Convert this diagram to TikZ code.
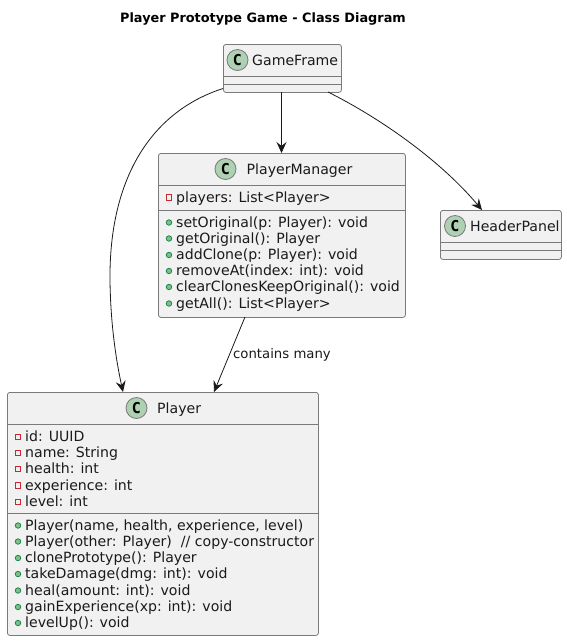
\documentclass[tikz,border=0pt]{standalone}
\usepackage{fontspec}
\setmainfont{DejaVu Sans}
\newfontfamily\badgefont{DejaVu Sans Mono}
\usetikzlibrary{arrows.meta}
\definecolor{boxfill}{HTML}{F1F1F1}
\definecolor{boxline}{HTML}{7A7A7A}
\definecolor{badge}{HTML}{ADD1B2}
\definecolor{privred}{HTML}{C82930}
\definecolor{pubgreen}{HTML}{84BE84}
\definecolor{publine}{HTML}{038048}
\definecolor{txt}{HTML}{1A1A1A}
\tikzset{
  classbox/.style={draw=boxline,fill=boxfill,line width=.8pt,rounded corners=2.5pt,inner sep=0pt,anchor=north west},
  sep/.style={draw=boxline,line width=.8pt},
  conn/.style={draw=txt,line width=.8pt,-{Stealth[length=11pt,width=10pt,inset=4pt]}},
  row/.style={anchor=west,inner sep=0pt,font=\fontsize{14.1}{16}\selectfont,text=txt,text height=12.5pt,text depth=3pt},
  cname/.style={inner sep=0pt,font=\fontsize{14.1}{16}\selectfont,text=txt,text height=13pt,text depth=3pt},
  cbadge/.style={circle,draw=boxline,fill=badge,line width=.8pt,minimum size=21pt,inner sep=0pt,font=\badgefont\fontsize{15}{16}\selectfont\bfseries,text=black},
  priv/.style={draw=privred,line width=.8pt,fill=none,minimum size=5.5pt,inner sep=0pt},
  pub/.style={circle,draw=publine,fill=pubgreen,line width=.7pt,minimum size=5.5pt,inner sep=0pt},
  lab/.style={inner sep=0pt,anchor=west,font=\fontsize{13.25}{15}\selectfont,text=txt},
  ttl/.style={inner sep=0pt,font=\fontsize{12.85}{15}\selectfont\bfseries,text=black}
}
% #1 name, #2 left edge, #3 top, #4 width, #5 height
\newcommand{\umlbox}[5]{\node[classbox,minimum width=#4pt,minimum height=#5pt] (#1) at (#2pt,-#3pt) {};}
% #1 style, #2 left, #3 y, #4 text
\newcommand{\umlrow}[4]{\node[#1,minimum size=5.5pt] at ({(#2+7)*1pt},-#3pt) {};\node[row] at ({(#2+14)*1pt},-#3pt) {#4};}
\newcommand{\umlsep}[3]{\draw[sep] (#1pt,-#3pt) -- (#2pt,-#3pt);}
\begin{document}
\begin{tikzpicture}[x=1pt,y=1pt]
\useasboundingbox (0,0) rectangle (567,-641);
\node[ttl] (title) at (263,-18.5) {Player Prototype Game - Class Diagram};

% GameFrame
\umlbox{gf}{223}{44}{118}{48}
\umlsep{223}{341}{76}\umlsep{223}{341}{84}
\node[cbadge] (gfb) at (237.5,-60) {C};
\node[cname,anchor=west] (gfn) at (252,-60) {GameFrame};

% PlayerManager
\umlbox{pm}{158}{153}{247}{164}
\umlsep{158}{405}{185}\umlsep{158}{405}{210}
\node[cbadge] (pmb) at (225.5,-169) {C};
\node[cname,anchor=west] (pmn) at (246.5,-169) {PlayerManager};
\umlrow{priv}{162}{197.5}{players: List<Player>}
\umlrow{pub}{162}{222.5}{setOriginal(p: Player): void}
\umlrow{pub}{162}{238.5}{getOriginal(): Player}
\umlrow{pub}{162}{255}{addClone(p: Player): void}
\umlrow{pub}{162}{271}{removeAt(index: int): void}
\umlrow{pub}{162}{287}{clearClonesKeepOriginal(): void}
\umlrow{pub}{162}{303.5}{getAll(): List<Player>}

% HeaderPanel
\umlbox{hp}{440}{210}{121}{49}
\umlsep{440}{561}{242}\umlsep{440}{561}{250}
\node[cbadge] (hpb) at (455,-226) {C};
\node[cname,anchor=west] (hpn) at (470,-226) {HeaderPanel};

% Player
\umlbox{pl}{7}{392}{311}{243}
\umlsep{7}{318}{424}\umlsep{7}{318}{513}
\node[cbadge] (plb) at (136.5,-408) {C};
\node[cname,anchor=west] (pln) at (157,-408) {Player};
\umlrow{priv}{11}{437}{id: UUID}
\umlrow{priv}{11}{453}{name: String}
\umlrow{priv}{11}{469}{health: int}
\umlrow{priv}{11}{485.5}{experience: int}
\umlrow{priv}{11}{502}{level: int}
\umlrow{pub}{11}{525.5}{Player(name, health, experience, level)}
\umlrow{pub}{11}{541.5}{Player(other: Player)\ \ // copy-constructor}
\umlrow{pub}{11}{558}{clonePrototype(): Player}
\umlrow{pub}{11}{574}{takeDamage(dmg: int): void}
\umlrow{pub}{11}{590.5}{heal(amount: int): void}
\umlrow{pub}{11}{607}{gainExperience(xp: int): void}
\umlrow{pub}{11}{623}{levelUp(): void}

% Connectors
\coordinate (gfL) at (223,-88.5);
\coordinate (plT) at (123,-392);
\coordinate (gfB) at (281.5,-92);
\coordinate (pmT) at (281.5,-153);
\coordinate (gfR) at (328,-92);
\coordinate (hpT) at (482,-210);
\coordinate (pmB) at (245,-317);
\coordinate (plT2) at (214,-392);
\draw[conn] (gfL) .. controls (150,-112) and (109,-180) .. (110,-280) .. controls (110.5,-320) and (115,-355) .. (plT);
\draw[conn] (gfB) -- (pmT);
\draw[conn] (gfR) .. controls (380,-118) and (440,-160) .. (hpT);
\draw[conn] (pmB) -- (plT2);
\node[lab] (cm) at (233,-354.5) {contains many};
\end{tikzpicture}
\end{document}
